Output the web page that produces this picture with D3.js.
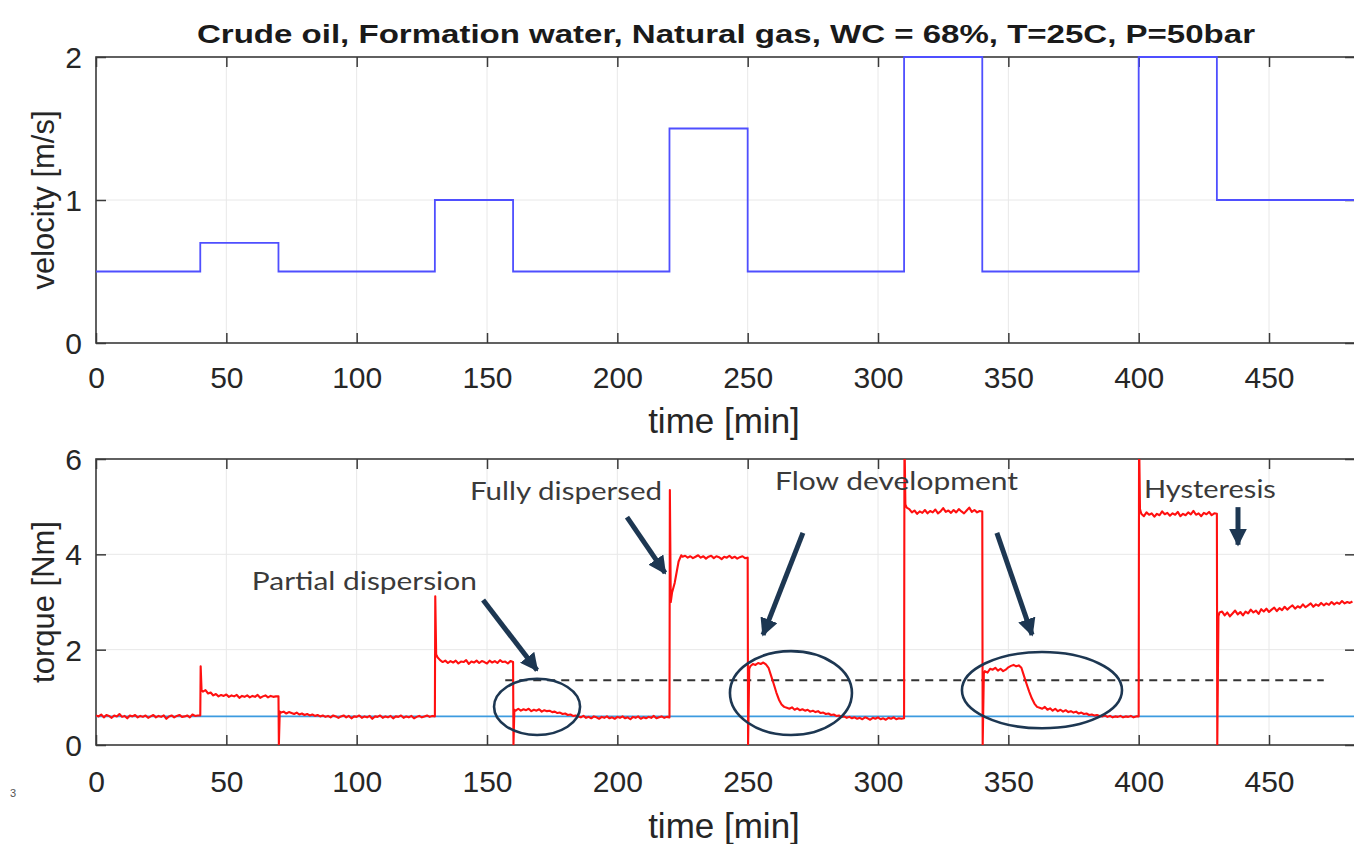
<!DOCTYPE html>
<html>
<head>
<meta charset="utf-8">
<script src="https://cdn.jsdelivr.net/npm/d3@7"></script>
<style>
  body { margin: 0; background: #fff; }
  svg { display: block; }
</style>
</head>
<body>
<div id="chart"></div>
<script>
const W = 1354, H = 844;

const titleText = "Crude oil, Formation water, Natural gas, WC = 68%, T=25C, P=50bar";
const timeDomain = [0, 483];
const timeTicks = [0, 50, 100, 150, 200, 250, 300, 350, 400, 450];
const velocityTicks = [0, 1, 2];
const torqueTicks = [0, 2, 4, 6];

// velocity set points [m/s], each held from velTime[i] to velTime[i+1]
const velTime = [0, 40, 70, 130, 160, 220, 250, 310, 340, 400, 430, 483];
const velValue = [0.5, 0.7, 0.5, 1.0, 0.5, 1.5, 0.5, 2.0, 0.5, 2.0, 1.0, 1.0];

// torque, one value per minute from each start minute
const torqueStart = [0, 41, 71, 131, 161, 225, 251, 311, 341, 401, 431];
const torqueMinutes = [
  [0.62,0.60,0.64,0.58,0.63,0.61,0.57,0.62,0.60,0.65,0.59,0.61,0.56,0.62,0.60,0.63,0.58,0.61,0.59,0.62,
   0.57,0.60,0.63,0.58,0.61,0.59,0.62,0.55,0.60,0.62,0.58,0.61,0.63,0.59,0.60,0.62,0.58,0.64,0.61,0.62],
  [1.12,1.15,1.08,1.10,1.04,1.07,1.02,1.05,1.03,1.06,1.01,1.04,1.02,1.05,0.99,1.03,1.01,1.04,1.00,1.03,
   1.01,1.05,0.99,1.02,1.04,1.00,1.03,1.01,1.02],
  [0.68,0.70,0.66,0.69,0.67,0.65,0.68,0.64,0.66,0.63,0.65,0.62,0.64,0.61,0.63,0.60,0.62,0.59,0.61,0.58,
   0.62,0.60,0.57,0.60,0.62,0.58,0.61,0.56,0.60,0.59,0.62,0.57,0.60,0.58,0.61,0.55,0.60,0.59,0.62,0.57,
   0.60,0.58,0.61,0.56,0.60,0.59,0.62,0.57,0.60,0.58,0.61,0.56,0.59,0.61,0.58,0.60,0.62,0.59,0.61],
  [1.84,1.78,1.74,1.77,1.72,1.76,1.73,1.77,1.71,1.75,1.74,1.78,1.70,1.75,1.73,1.77,1.72,1.76,1.74,1.71,
   1.77,1.73,1.76,1.72,1.78,1.74,1.75,1.71,1.76],
  [0.72,0.76,0.72,0.75,0.73,0.76,0.71,0.74,0.72,0.75,0.70,0.73,0.71,0.72,0.69,0.70,0.67,0.68,0.65,0.66,
   0.63,0.64,0.61,0.62,0.60,0.58,0.61,0.57,0.59,0.56,0.60,0.58,0.55,0.59,0.57,0.60,0.56,0.58,0.55,0.59,
   0.57,0.60,0.56,0.58,0.54,0.59,0.57,0.60,0.55,0.58,0.56,0.59,0.57,0.61,0.56,0.58,0.60,0.57,0.59],
  [3.95,3.97,3.93,3.96,3.92,3.95,3.98,3.93,3.96,3.91,3.95,3.97,3.92,3.96,3.94,3.90,3.95,3.93,3.97,3.92,
   3.95,3.91,3.94,3.96,3.92],
  [1.65,1.70,1.68,1.72,1.70,1.73,1.69,1.62,1.45,1.28,1.10,0.95,0.85,0.80,0.78,0.76,0.79,0.74,0.77,0.73,
   0.75,0.72,0.74,0.70,0.72,0.69,0.71,0.67,0.68,0.65,0.66,0.63,0.64,0.61,0.62,0.59,0.60,0.57,0.59,0.56,
   0.58,0.55,0.57,0.54,0.58,0.56,0.53,0.57,0.55,0.58,0.54,0.56,0.53,0.57,0.55,0.58,0.54,0.56,0.55],
  [4.98,4.95,4.88,4.92,4.85,4.90,4.87,4.93,4.86,4.91,4.88,4.94,4.86,4.90,4.97,4.89,4.92,4.87,4.93,4.88,
   4.95,4.90,4.86,4.92,4.98,4.89,4.93,4.88,4.91],
  [1.55,1.52,1.60,1.58,1.62,1.56,1.60,1.55,1.58,1.63,1.66,1.68,1.65,1.67,1.62,1.45,1.28,1.12,0.98,0.87,
   0.80,0.78,0.76,0.80,0.74,0.77,0.72,0.76,0.71,0.74,0.70,0.73,0.69,0.71,0.68,0.70,0.66,0.68,0.65,0.66,
   0.63,0.64,0.62,0.63,0.61,0.60,0.62,0.59,0.61,0.58,0.60,0.59,0.61,0.58,0.60,0.59,0.61,0.58,0.60],
  [4.85,4.80,4.88,4.83,4.86,4.79,4.85,4.82,4.90,4.84,4.87,4.81,4.86,4.83,4.89,4.80,4.85,4.82,4.88,4.84,
   4.91,4.83,4.86,4.80,4.87,4.84,4.89,4.82,4.86],
  [2.78,2.80,2.72,2.78,2.70,2.76,2.82,2.74,2.79,2.72,2.80,2.76,2.84,2.78,2.82,2.75,2.85,2.80,2.86,2.79,
   2.84,2.88,2.81,2.87,2.83,2.90,2.84,2.89,2.93,2.86,2.91,2.88,2.95,2.89,2.93,2.97,2.90,2.95,2.92,2.98,
   2.93,2.97,2.94,3.00,2.95,2.99,2.96,3.02,2.97,3.00,2.98,3.01]
];
// fast transients at each velocity change [min, Nm]
const torqueTransients = [
  [40, 0.62], [40.15, 1.65], [40.5, 1.15],
  [70, 1.02], [70.15, 0], [70.5, 0.70],
  [130, 0.60], [130.15, 3.12], [130.5, 1.90],
  [160, 1.74], [160.15, 0], [160.5, 0.74],
  [220, 0.58], [220.15, 5.35], [220.5, 3.00], [221, 3.20], [221.5, 3.30], [222, 3.40], [222.5, 3.55], [223.5, 3.85], [224.5, 3.98],
  [250, 3.93], [250.15, 0], [250.6, 1.60],
  [310, 0.56], [310.15, 6.5], [310.5, 5.05],
  [340, 4.90], [340.15, 0], [340.6, 1.50],
  [400, 0.60], [400.15, 6.5], [400.5, 4.95],
  [430, 4.85], [430.15, 0], [430.6, 2.70]
];

const baselineTorque = 0.6;
const dashedLevel = { from: 157, to: 471, value: 1.36 };

// annotations in data units [min, Nm]
const labels = [
  { text: "Partial dispersion", t: 59.8, v: 3.25, width: 225 },
  { text: "Fully dispersed", t: 143.5, v: 5.14, width: 192 },
  { text: "Flow development", t: 260.5, v: 5.35, width: 243 },
  { text: "Hysteresis", t: 402, v: 5.18, width: 132 }
];
const arrows = [
  { t0: 148.5, v0: 3.04, t1: 169.2, v1: 1.57 },
  { t0: 203.7, v0: 4.78, t1: 218.3, v1: 3.61 },
  { t0: 271.2, v0: 4.45, t1: 255.9, v1: 2.31 },
  { t0: 345.6, v0: 4.45, t1: 359.1, v1: 2.31 },
  { t0: 438.1, v0: 4.99, t1: 438.1, v1: 4.20 }
];
const ellipses = [
  { t: 169.2, v: 0.80, rt: 16.5, rv: 0.59 },
  { t: 266.6, v: 1.09, rt: 23.4, rv: 0.88 },
  { t: 362.9, v: 1.15, rt: 30.7, rv: 0.80 }
];

const svg = d3.select('#chart').append('svg')
  .attr('width', W)
  .attr('height', H);

const x = d3.scaleLinear().domain(timeDomain).range([96, 96 + 483 * 2.6067]);
const yVel = d3.scaleLinear().domain([0, 2]).range([343, 57]);
const yTor = d3.scaleLinear().domain([0, 6]).range([745, 459]);

const axisColor = '#3a3a3a';
const font = "'Liberation Sans', Arial, sans-serif";

function drawFrame(y, yTicks, labelPad) {
  const g = svg.append('g');
  const [yb, yt] = y.range();
  const [xl, xr] = x.range();

  // faint grid
  g.selectAll('.vgrid').data(timeTicks.slice(1)).enter().append('line')
    .attr('x1', d => x(d)).attr('x2', d => x(d))
    .attr('y1', yt).attr('y2', yb)
    .attr('stroke', '#e8e8e8').attr('stroke-width', 1);
  g.selectAll('.hgrid').data(yTicks.slice(1, -1)).enter().append('line')
    .attr('x1', xl).attr('x2', xr)
    .attr('y1', d => y(d)).attr('y2', d => y(d))
    .attr('stroke', '#e8e8e8').attr('stroke-width', 1);

  const bottom = g.append('g')
    .attr('transform', `translate(0, ${yb})`)
    .call(d3.axisBottom(x).tickValues(timeTicks).tickSizeInner(-10).tickSizeOuter(0).tickPadding(labelPad));
  const top = g.append('g')
    .attr('transform', `translate(0, ${yt})`)
    .call(d3.axisTop(x).tickValues(timeTicks).tickSizeInner(-10).tickSizeOuter(0).tickFormat(''));
  const left = g.append('g')
    .attr('transform', `translate(${xl}, 0)`)
    .call(d3.axisLeft(y).tickValues(yTicks).tickFormat(d3.format('d'))
      .tickSizeInner(-10).tickSizeOuter(0).tickPadding(14));
  const right = g.append('g')
    .attr('transform', `translate(${xr}, 0)`)
    .call(d3.axisRight(y).tickValues(yTicks).tickSizeInner(-10).tickSizeOuter(0).tickFormat(''));

  [bottom, top, left, right].forEach(a => {
    a.select('.domain').remove();
    a.selectAll('line').attr('stroke', axisColor).attr('stroke-width', 1.5);
    a.selectAll('text')
      .style('font-family', font)
      .style('font-size', '30px')
      .attr('fill', '#262626');
  });
  left.selectAll('text').attr('dy', '0.35em');

  g.append('rect')
    .attr('x', xl).attr('y', yt)
    .attr('width', xr - xl).attr('height', yb - yt)
    .attr('fill', 'none')
    .attr('stroke', axisColor)
    .attr('stroke-width', 1.6);
  return g;
}

// ---- top: velocity ----
drawFrame(yVel, velocityTicks, 24);

const velLine = d3.line()
  .x((d, i) => x(velTime[i]))
  .y(d => yVel(d))
  .curve(d3.curveStepAfter);

svg.append('path')
  .datum(velValue)
  .attr('fill', 'none')
  .attr('stroke', '#4f4fff')
  .attr('stroke-width', 1.8)
  .attr('d', velLine);

svg.append('text')
  .attr('x', (197 + 1255) / 2)
  .attr('y', 43)
  .attr('text-anchor', 'middle')
  .attr('textLength', 1058)
  .attr('lengthAdjust', 'spacingAndGlyphs')
  .style('font-family', font)
  .style('font-size', '25px')
  .style('font-weight', 'bold')
  .attr('fill', '#1a1a1a')
  .text(titleText);

svg.append('text')
  .attr('transform', `translate(54, ${(57 + 343) / 2}) rotate(-90)`)
  .attr('text-anchor', 'middle')
  .style('font-family', font)
  .style('font-size', '31px')
  .attr('fill', '#262626')
  .text('velocity [m/s]');

svg.append('text')
  .attr('x', 724)
  .attr('y', 433)
  .attr('text-anchor', 'middle')
  .style('font-family', font)
  .style('font-size', '35px')
  .attr('fill', '#262626')
  .text('time [min]');

// ---- bottom: torque ----
drawFrame(yTor, torqueTicks, 26);

svg.append('defs').append('clipPath').attr('id', 'torqueClip')
  .append('rect')
  .attr('x', x.range()[0]).attr('y', yTor.range()[1])
  .attr('width', x.range()[1] - x.range()[0])
  .attr('height', yTor.range()[0] - yTor.range()[1]);

const torquePoints = [];
torqueMinutes.forEach((vals, s) => {
  vals.forEach((v, i) => torquePoints.push([torqueStart[s] + i, v]));
});
torqueTransients.forEach(p => torquePoints.push(p));
torquePoints.sort((a, b) => a[0] - b[0]);

const plot = svg.append('g').attr('clip-path', 'url(#torqueClip)');

plot.append('line')
  .attr('x1', x.range()[0]).attr('x2', x.range()[1])
  .attr('y1', yTor(baselineTorque)).attr('y2', yTor(baselineTorque))
  .attr('stroke', '#3d9be0')
  .attr('stroke-width', 1.6);

plot.append('line')
  .attr('x1', x(dashedLevel.from)).attr('x2', x(dashedLevel.to))
  .attr('y1', yTor(dashedLevel.value)).attr('y2', yTor(dashedLevel.value))
  .attr('stroke', '#333')
  .attr('stroke-width', 2)
  .attr('stroke-dasharray', '8,6');

plot.append('path')
  .datum(torquePoints)
  .attr('fill', 'none')
  .attr('stroke', '#ff1010')
  .attr('stroke-width', 2.1)
  .attr('stroke-linejoin', 'round')
  .attr('d', d3.line().x(d => x(d[0])).y(d => yTor(d[1])));

const navy = '#1d3752';

svg.selectAll('.ring').data(ellipses).enter().append('ellipse')
  .attr('cx', d => x(d.t))
  .attr('cy', d => yTor(d.v))
  .attr('rx', d => x(d.t + d.rt) - x(d.t))
  .attr('ry', d => yTor(0) - yTor(d.rv))
  .attr('fill', 'none')
  .attr('stroke', navy)
  .attr('stroke-width', 2.6);

svg.select('defs').append('marker')
  .attr('id', 'head')
  .attr('viewBox', '0 0 10 10')
  .attr('refX', 9).attr('refY', 5)
  .attr('markerWidth', 3.6).attr('markerHeight', 3.6)
  .attr('orient', 'auto')
  .append('path')
  .attr('d', 'M0,0 L10,5 L0,10 Z')
  .attr('fill', navy);

svg.selectAll('.arrow').data(arrows).enter().append('line')
  .attr('x1', d => x(d.t0)).attr('y1', d => yTor(d.v0))
  .attr('x2', d => x(d.t1)).attr('y2', d => yTor(d.v1))
  .attr('stroke', navy)
  .attr('stroke-width', 5)
  .attr('marker-end', 'url(#head)');

svg.selectAll('.note').data(labels).enter().append('text')
  .attr('x', d => x(d.t))
  .attr('y', d => yTor(d.v))
  .attr('textLength', d => d.width)
  .attr('lengthAdjust', 'spacingAndGlyphs')
  .style('font-family', "Lato, 'Open Sans', sans-serif")
  .style('font-size', '25px')
  .attr('fill', '#3a3a3a')
  .text(d => d.text);

svg.append('text')
  .attr('transform', `translate(54, ${(459 + 745) / 2}) rotate(-90)`)
  .attr('text-anchor', 'middle')
  .style('font-family', font)
  .style('font-size', '31px')
  .attr('fill', '#262626')
  .text('torque [Nm]');

svg.append('text')
  .attr('x', 724)
  .attr('y', 838)
  .attr('text-anchor', 'middle')
  .style('font-family', font)
  .style('font-size', '35px')
  .attr('fill', '#262626')
  .text('time [min]');

svg.append('text')
  .attr('x', 10)
  .attr('y', 797)
  .style('font-family', font)
  .style('font-size', '11px')
  .attr('fill', '#555')
  .text('3');
</script>
</body>
</html>
